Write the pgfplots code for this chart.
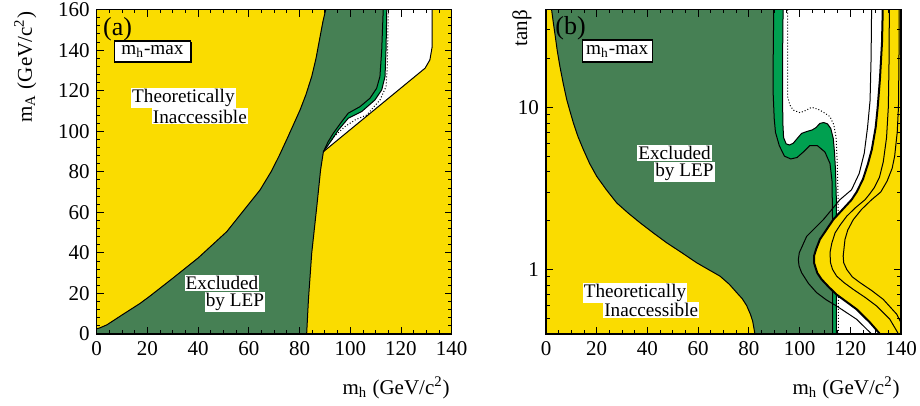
\documentclass[border=0pt]{standalone}
\usepackage{fontspec}
\setmainfont{Liberation Serif}
\usepackage{pgfplots}
\pgfplotsset{compat=1.18}
\usetikzlibrary{shadows}

\definecolor{theoyel}{RGB}{250,220,0}
\definecolor{lepdark}{RGB}{70,128,84}
\definecolor{leplight}{RGB}{0,160,80}

\pgfplotsset{
  lepaxis/.style={
    scale only axis, width=177.5pt, height=162.2pt,
    xmin=0, xmax=140, xtick={0,20,...,140}, minor x tick num=3,
    tick align=inside, major tick length=3.5pt, minor tick length=1.8pt,
    tick style={black, line width=0.45pt},
    axis line style={line width=0.75pt},
    tick label style={font=\fontsize{10.5}{12}\selectfont},
    /pgf/number format/assume math mode=true,
    axis on top, clip mode=individual,
  },
  bnd/.style={black, line width=0.5pt},
}
\tikzset{
  mhbox/.style={draw, fill=white, line width=0.6pt, inner sep=0pt, font=\lbl,
    drop shadow={fill=black, opacity=1, shadow xshift=0.6pt, shadow yshift=-0.6pt}},
  txt/.style={fill=white, inner sep=0.6pt, font=\lbl},
}
\newcommand{\lbl}{\fontsize{9.6}{11}\selectfont}

\begin{document}
\begin{tikzpicture}

% ---------------- (a) m_h - m_A plane ----------------
\begin{axis}[lepaxis, name=A, ymin=0, ymax=160, ytick={0,20,...,160}, minor y tick num=4]

% theoretically inaccessible background
\addplot[fill=theoyel, draw=none] coordinates {(0,0) (140,0) (140,160) (0,160)};

% allowed (white) region
\addplot[fill=white, draw=none] coordinates {
 (89.4,89.9) (129.5,131.1) (131.4,135.2) (132.3,141.7) (132.3,160) (100,160)};

% excluded at 95% CL (light green)
\addplot[fill=leplight, draw=none] coordinates {
 (89.4,89.9) (92.7,95.7) (95.3,100.6) (99.2,106.4) (104.5,109.7) (109.7,115.4)
 (112.4,120.4) (113.7,127) (114.1,140) (114.4,160) (100,160)};

% excluded at 99.7% CL (dark green)
\addplot[fill=lepdark, draw=none] coordinates {
 (0,0) (0,2.6) (1,2.9) (4,4.5) (10,9.4) (17,15) (21,18.7) (30,27.5) (40,37.5)
 (51.3,50.5) (58,61) (64.4,71) (69,80.5) (72,88) (74.9,95.8) (77.5,103)
 (80.2,110.5) (82.5,118) (84.8,127) (86.5,136) (88.1,146.7) (89.2,154) (90.3,160)
 (113,160) (112.4,140) (111.7,127) (110.4,121.2) (107.8,116.3) (103.8,112.1)
 (99.2,108.9) (96.6,104.7) (93.3,99) (91.3,94.9) (89.4,89.9)
 (88.3,81) (86.8,62.9) (84.8,39.9) (83.5,16.9) (82.8,0)};

% expected limit
\addplot[black, densely dotted, line width=0.5pt] coordinates {
 (92,94.9) (93.3,97) (97.9,102.3) (101.9,105.6) (106.5,108) (111.7,115.4)
 (114.1,122) (114.6,131.9) (115,160)};

% boundaries
\addplot[bnd] coordinates {
 (0,2.6) (1,2.9) (4,4.5) (10,9.4) (17,15) (21,18.7) (30,27.5) (40,37.5)
 (51.3,50.5) (58,61) (64.4,71) (69,80.5) (72,88) (74.9,95.8) (77.5,103)
 (80.2,110.5) (82.5,118) (84.8,127) (86.5,136) (88.1,146.7) (89.2,154) (90.3,160)};
\addplot[bnd] coordinates {
 (113,160) (112.4,140) (111.7,127) (110.4,121.2) (107.8,116.3) (103.8,112.1)
 (99.2,108.9) (96.6,104.7) (93.3,99) (91.3,94.9) (89.4,89.9)
 (88.3,81) (86.8,62.9) (84.8,39.9) (83.5,16.9) (82.8,0)};
\addplot[bnd] coordinates {
 (89.4,89.9) (92.7,95.7) (95.3,100.6) (99.2,106.4) (104.5,109.7) (109.7,115.4)
 (112.4,120.4) (113.7,127) (114.1,140) (114.4,160)};
\addplot[bnd] coordinates {
 (89.4,89.9) (129.5,131.1) (131.4,135.2) (132.3,141.7) (132.3,160)};

\node[anchor=north west, inner sep=0pt, font=\fontsize{13}{15}\selectfont]
  at ([xshift=3pt, yshift=-3.5pt]rel axis cs:0,1) {(a)};
\node[mhbox, minimum width=38pt, minimum height=10.5pt] at (axis cs:22,139.3) {m\textsubscript{h}-max};
\node[txt] at (axis cs:34.2,116.2) {Theoretically};
\node[txt] at (axis cs:40.7,107.3) {Inaccessible};
\node[txt] at (axis cs:49.4,25.2) {Excluded};
\node[txt] at (axis cs:54.5,15.8) {by LEP};
\end{axis}

% ---------------- (b) m_h - tan beta plane ----------------
\begin{axis}[lepaxis, name=B, at={(224.65pt,0pt)}, anchor=south west,
  ymode=log, ymin=0.4, ymax=40, ytick={1,10}, yticklabels={1,10},
  minor ytick={0.4,0.5,0.6,0.7,0.8,0.9,2,3,4,5,6,7,8,9,20,30,40}]

% theoretically inaccessible (left)
\addplot[fill=theoyel, draw=none] coordinates {
 (0,40) (2.2,40) (2.8,34) (3.5,28.5) (4.4,22.5) (5.5,17.8) (6.8,14) (8.2,11.1)
 (9.5,9.4) (10.8,8.0) (12.6,6.6) (14.7,5.5) (17.2,4.5) (20,3.75) (23.8,3.1)
 (27.9,2.57) (32.5,2.22) (37.1,1.94) (42.3,1.68) (47.6,1.46) (53.5,1.27)
 (59.4,1.10) (64,1.0) (68.6,0.91) (72.3,0.81) (75.2,0.72) (77.4,0.66)
 (79.1,0.60) (80.6,0.53) (81.5,0.48) (82.4,0.4) (0,0.4)};

% light green band
\addplot[fill=leplight, draw=none] coordinates {
 (114.5,0.4) (114.5,2.7) (114.2,4.0) (113.8,5.2) (113.3,6.4) (112.3,7.4) (111,7.9)
 (109.5,8.05) (108,7.95) (106.5,7.5) (105,7.25) (103,7.1) (100.8,6.9) (99,6.4)
 (97.5,6.0) (96,5.85) (94.7,5.95) (93.7,6.5) (93.4,8) (93.3,12) (93.3,20) (93.5,40)
 (85,40) (85,0.4)};

% dark green
\addplot[fill=lepdark, draw=none] coordinates {
 (2.2,40) (2.8,34) (3.5,28.5) (4.4,22.5) (5.5,17.8) (6.8,14) (8.2,11.1)
 (9.5,9.4) (10.8,8.0) (12.6,6.6) (14.7,5.5) (17.2,4.5) (20,3.75) (23.8,3.1)
 (27.9,2.57) (32.5,2.22) (37.1,1.94) (42.3,1.68) (47.6,1.46) (53.5,1.27)
 (59.4,1.10) (64,1.0) (68.6,0.91) (72.3,0.81) (75.2,0.72) (77.4,0.66)
 (79.1,0.60) (80.6,0.53) (81.5,0.48) (82.4,0.4)
 (113,0.4) (113,2.0) (112.8,3.5) (112,4.5) (110,5.3) (107,5.8) (104,5.8)
 (101.5,5.3) (99,4.9) (96.5,4.8) (94,5.0) (92,5.8) (90.5,7.0) (90,8.5)
 (89.6,12) (89.6,20) (89.8,40)};

% expected limit
\addplot[black, densely dotted, line width=0.5pt] coordinates {
 (95.3,40) (95.3,11.6) (96.2,10.3) (97.5,9.6) (100.2,9.26) (102.1,9.5) (104.8,10)
 (107.4,9.7) (110,9.2) (112,8.75) (113.5,7.8) (114.4,6.5) (114.9,4.3) (115.2,2.7)
 (115.3,0.4)};

\addplot[bnd] coordinates {
 (113,0.4) (113,2.0) (112.8,3.5) (112,4.5) (110,5.3) (107,5.8) (104,5.8)
 (101.5,5.3) (99,4.9) (96.5,4.8) (94,5.0) (92,5.8) (90.5,7.0) (90,8.5)
 (89.6,12) (89.6,20) (89.8,40)};
\addplot[bnd] coordinates {
 (114.5,0.4) (114.5,2.7) (114.2,4.0) (113.8,5.2) (113.3,6.4) (112.3,7.4) (111,7.9)
 (109.5,8.05) (108,7.95) (106.5,7.5) (105,7.25) (103,7.1) (100.8,6.9) (99,6.4)
 (97.5,6.0) (96,5.85) (94.7,5.95) (93.7,6.5) (93.4,8) (93.3,12) (93.3,20) (93.5,40)};

% theoretically inaccessible (right)
\addplot[fill=theoyel, draw=none] coordinates {
 (132.8,40) (132.5,25) (131.7,15) (130.8,10) (130,7.5) (128.5,5.5) (127,4.5)
 (125,3.6) (122.5,3.0) (120.5,2.69) (116.5,2.3) (113.3,2.03) (110.5,1.75)
 (108,1.53) (106.5,1.33) (105.7,1.21) (105.7,1.1) (106.1,1.05) (107,0.95)
 (108.7,0.868) (111.5,0.78) (114.6,0.70) (122.5,0.568) (127.8,0.47) (131.7,0.4)
 (140,0.4) (140,40)};

\addplot[bnd] coordinates {
 (2.2,40) (2.8,34) (3.5,28.5) (4.4,22.5) (5.5,17.8) (6.8,14) (8.2,11.1)
 (9.5,9.4) (10.8,8.0) (12.6,6.6) (14.7,5.5) (17.2,4.5) (20,3.75) (23.8,3.1)
 (27.9,2.57) (32.5,2.22) (37.1,1.94) (42.3,1.68) (47.6,1.46) (53.5,1.27)
 (59.4,1.10) (64,1.0) (68.6,0.91) (72.3,0.81) (75.2,0.72) (77.4,0.66)
 (79.1,0.60) (80.6,0.53) (81.5,0.48) (82.4,0.4)};
\addplot[black, line width=1pt] coordinates {
 (132.8,40) (132.5,25) (131.7,15) (130.8,10) (130,7.5) (128.5,5.5) (127,4.5)
 (125,3.6) (122.5,3.0) (120.5,2.69) (116.5,2.3) (113.3,2.03) (110.5,1.75)
 (108,1.53) (106.5,1.33) (105.7,1.21) (105.7,1.1) (106.1,1.05) (107,0.95)
 (108.7,0.868) (111.5,0.78) (114.6,0.70) (122.5,0.568) (127.8,0.47) (131.7,0.4)};
\addplot[bnd] coordinates {
 (128.4,40) (128.2,20) (127.8,11) (126.8,7.5) (125.5,5.2) (123.5,3.9) (120.5,3.1)
 (115.9,2.69) (109.4,2.03) (102.8,1.6) (99.9,1.27) (99.5,1.15) (99.8,1.05)
 (100.8,0.955) (103.5,0.82) (106.7,0.72) (110.5,0.65) (114.6,0.595) (122.5,0.493)
 (128.4,0.4)};
\addplot[bnd] coordinates {
 (135.4,40) (135.3,20) (135,10) (134.3,6.5) (133,4.6) (131.5,3.7) (129.5,3.2)
 (127.5,2.9) (125.8,2.69) (122,2.4) (118.6,2.13) (116,1.88) (114,1.68) (112.7,1.45)
 (112,1.27) (112.2,1.1) (113,1.0) (114.6,0.91) (117.5,0.83) (121.2,0.753)
 (126,0.67) (130.4,0.595) (135.6,0.493) (138.3,0.418) (139,0.4)};
\addplot[bnd] coordinates {
 (139.3,40) (139.2,20) (139,10) (138.5,7) (137.5,5) (136.5,4.2) (134.5,3.5)
 (132,3.0) (128.4,2.69) (124.5,2.35) (121.2,2.03) (119,1.75) (117.9,1.53)
 (117.2,1.21) (117.4,1.1) (118.6,1.0) (120.8,0.9) (123.8,0.83) (128.5,0.74)
 (133,0.654) (138.3,0.53) (140,0.47)};

\node[anchor=north west, inner sep=0pt, font=\fontsize{13}{15}\selectfont]
  at ([xshift=4.5pt, yshift=-3pt]rel axis cs:0,1) {(b)};
\node[mhbox, minimum width=35pt, minimum height=11pt] at (axis cs:28.1,22.2) {m\textsubscript{h}-max};
\node[txt] at (axis cs:50.7,5.2) {Excluded};
\node[txt] at (axis cs:54.6,4.0) {by LEP};
\node[txt] at (axis cs:35.1,0.716) {Theoretically};
\node[txt] at (axis cs:41.5,0.565) {Inaccessible};
\end{axis}

% axis titles
\node[anchor=north east, inner sep=0pt, font=\fontsize{10.5}{12}\selectfont]
  at ([xshift=-0.8pt, yshift=-21pt]A.south east) {m\textsubscript{h} (GeV/c\textsuperscript{2})};
\node[anchor=north east, inner sep=0pt, font=\fontsize{10.5}{12}\selectfont]
  at ([xshift=-0.5pt, yshift=-21pt]B.south east) {m\textsubscript{h} (GeV/c\textsuperscript{2})};
\node[rotate=90, anchor=south east, inner sep=0pt, font=\fontsize{10.5}{12}\selectfont]
  at ([xshift=-30pt, yshift=-1pt]A.north west) {m\textsubscript{A} (GeV/c\textsuperscript{2})};
\node[rotate=90, anchor=south east, inner sep=0pt, font=\fontsize{10.5}{12}\selectfont]
  at ([xshift=-7pt, yshift=0pt]B.north west) {tanβ};

\pgfresetboundingbox
\path (-48.35pt,-36pt) rectangle (411.65pt,167pt);
\end{tikzpicture}
\end{document}
